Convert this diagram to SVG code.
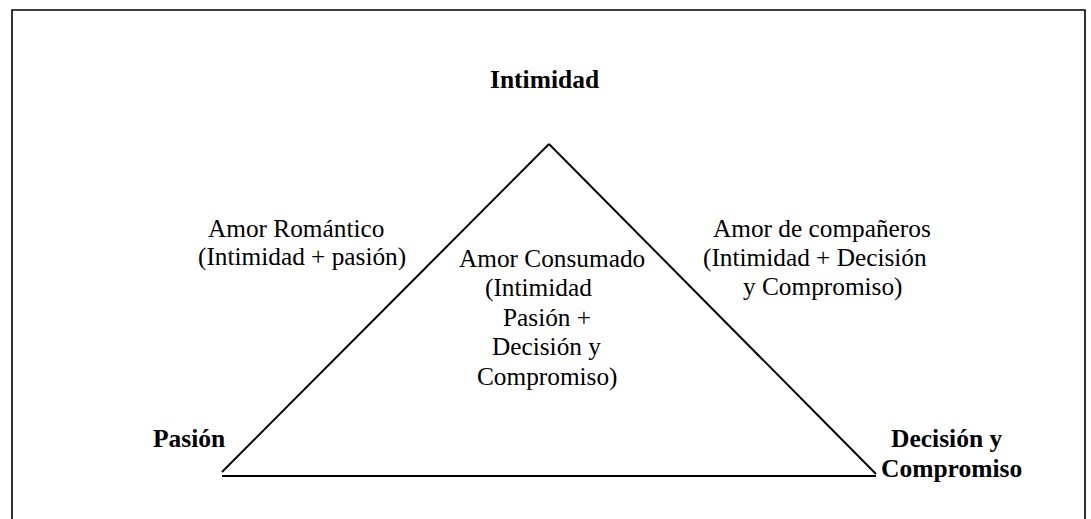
<svg xmlns="http://www.w3.org/2000/svg" width="1091" height="519" viewBox="0 0 1091 519">
<style>
.t{font-family:"Liberation Serif","Times New Roman",serif;font-size:25.3px;fill:#000}
.b{font-weight:bold;font-size:25.5px}
.ln{stroke:#000;stroke-width:2;fill:none}
.fr{stroke:#000;stroke-width:1.6;fill:none}
</style>
<rect width="1091" height="519" fill="#fff"/>
<path class="fr" d="M12 519 V10 H1085 V519"/>
<g id="connectors">
<line class="ln" x1="222" y1="472" x2="549" y2="144"/>
<line class="ln" x1="549" y1="144" x2="876" y2="474"/>
<line class="ln" x1="222" y1="476" x2="876" y2="476"/>
</g>
<g id="intimidad"><text class="t b" x="490" y="88">Intimidad</text></g>
<g id="pasion"><text class="t b" x="153" y="447">Pasión</text></g>
<g id="decision"><text class="t b" x="891" y="447">Decisión y</text><text class="t b" x="881" y="477">Compromiso</text></g>
<g id="romantico"><text class="t" x="208" y="237">Amor Romántico</text><text class="t" x="198" y="265">(Intimidad + pasión)</text></g>
<g id="consumado"><text class="t" x="459" y="267">Amor Consumado</text><text class="t" x="485" y="296">(Intimidad</text><text class="t" x="503" y="326">Pasión +</text><text class="t" x="492" y="355">Decisión y</text><text class="t" x="477" y="385">Compromiso)</text></g>
<g id="companeros"><text class="t" x="713" y="237">Amor de compañeros</text><text class="t" x="703" y="266">(Intimidad + Decisión</text><text class="t" x="743" y="295">y Compromiso)</text></g>
</svg>
